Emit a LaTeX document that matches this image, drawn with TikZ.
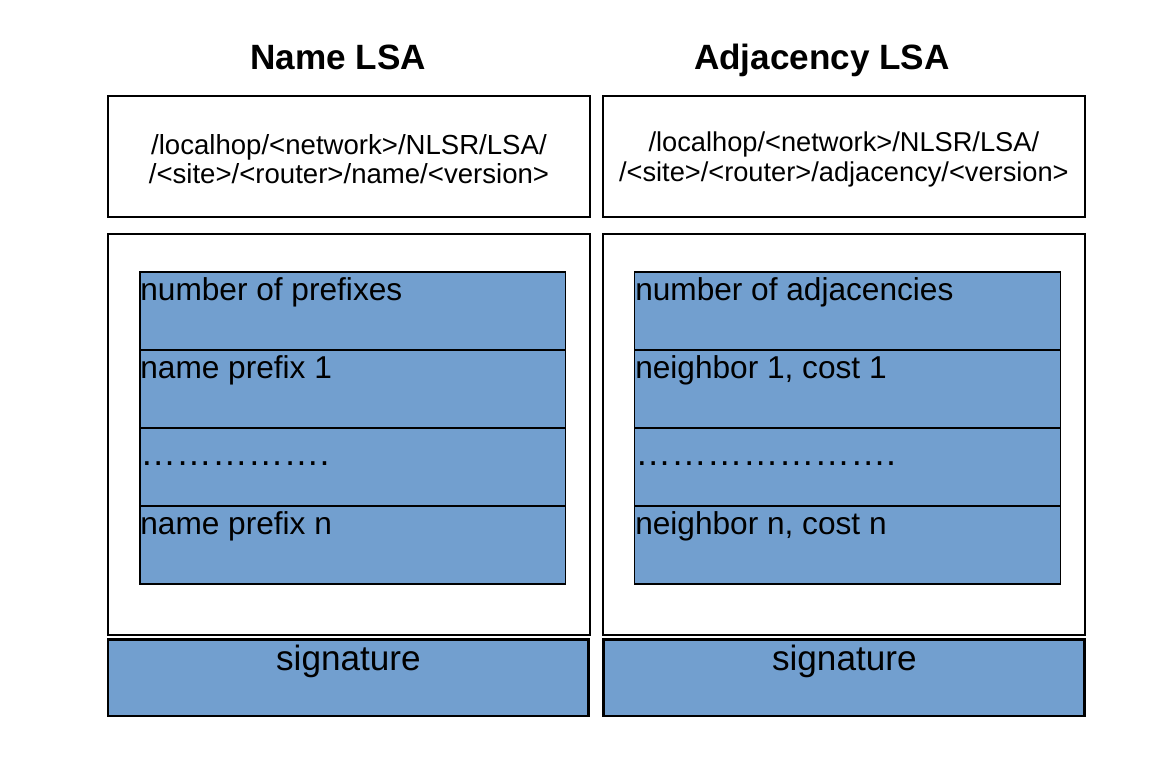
\documentclass[tikz,border=0pt]{standalone}
\usepackage{fontspec}
\setmainfont{Liberation Sans}
\usetikzlibrary{positioning}
\definecolor{azul}{RGB}{114,159,207}
\tikzstyle{caja}  =[draw, line width=1.1pt, inner sep=0pt,
                    outer sep=0pt, anchor=north west,
                    minimum width=9.64cm]
\tikzstyle{fila}  =[draw, fill=azul, line width=0.6pt, inner sep=0pt,
                    outer sep=0pt, anchor=north west,
                    minimum width=8.52cm, minimum height=1.56cm]
\tikzstyle{firma} =[draw, fill=azul, line width=1.7pt, inner sep=0pt,
                    outer sep=0pt, anchor=north west,
                    minimum width=9.62cm, minimum height=1.54cm]
\tikzstyle{texto} =[inner sep=0pt, anchor=base west,
                    font=\fontsize{18}{20}\selectfont]
\tikzstyle{puntos}=[inner sep=0pt, anchor=base west,
                    font=\fontsize{20.4}{22}\selectfont]
\tikzstyle{titulo}=[inner sep=0pt, anchor=base,
                    font=\fontsize{20}{22}\selectfont\bfseries]

\begin{document}
\begin{tikzpicture}[x=0.02cm,y=-0.02cm]
    \useasboundingbox (0,0) rectangle (1173,758);

        \begin{scope}[]
            \node (tit) [titulo] at (338,69) {Name LSA};
            \node (cab) [caja,minimum height=2.42cm] at (108,96) {};
            \node [align=center,font=\fontsize{15.7}{16.6}\selectfont] at ([yshift=-0.06cm]cab.center) {/localhop/<network>/NLSR/LSA/\\/<site>/<router>/name/<version>};
            \node (cuerpo) [caja,minimum height=8.02cm] at (108,234) {};
            \foreach \i/\t in {1/number of prefixes,2/name prefix 1,4/name prefix n} {
                \node (f\i) [fila] at (140,194+78*\i) {};
                \node [texto] at ([yshift=-0.56cm]f\i.north west) {\t};
            }
            \node (f3) [fila] at (140,428) {};
            \node [puntos] at ([yshift=-0.74cm]f3.north west) {…………….};
            \node (sig) [firma] at (108,639) {};
            \node [font=\fontsize{20}{22}\selectfont,anchor=base] at ([yshift=-0.62cm]sig.north) {signature};
        \end{scope}

        \begin{scope}[xshift=9.9cm]
            \node (tit) [titulo] at (327,69) {Adjacency LSA};
            \node (cab) [caja,minimum height=2.42cm] at (108,96) {};
            \node [align=center,font=\fontsize{15.5}{16.6}\selectfont] at ([yshift=-0.06cm]cab.center) {/localhop/<network>/NLSR/LSA/\\/<site>/<router>/adjacency/<version>};
            \node (cuerpo) [caja,minimum height=8.02cm] at (108,234) {};
            \foreach \i/\t in {1/number of adjacencies,2/{neighbor 1, cost 1},4/{neighbor n, cost n}} {
                \node (f\i) [fila] at (140,194+78*\i) {};
                \node [texto] at ([yshift=-0.56cm]f\i.north west) {\t};
            }
            \node (f3) [fila] at (140,428) {};
            \node [puntos] at ([yshift=-0.74cm]f3.north west) {………………….};
            \node (sig) [firma] at (109,639) {};
            \node [font=\fontsize{20}{22}\selectfont,anchor=base] at ([yshift=-0.62cm]sig.north) {signature};
        \end{scope}

    \end{tikzpicture}
\end{document}
